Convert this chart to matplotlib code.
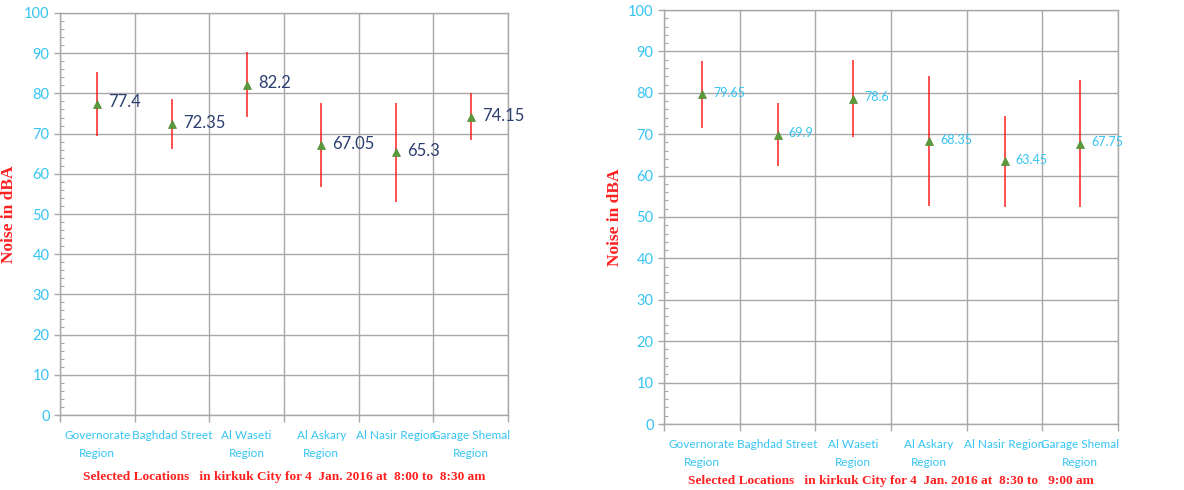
import matplotlib
matplotlib.use("Agg")
import matplotlib.pyplot as plt
import numpy as np

categories = ["Governorate\nRegion", "Baghdad Street", "Al Waseti\nRegion",
              "Al Askary\nRegion", "Al Nasir Region", "Garage Shemal\nRegion"]

mean_1 = [77.4, 72.35, 82.2, 67.05, 65.3, 74.15]
low_1 = [69.5, 66.2, 74.1, 56.6, 53.1, 68.3]
high_1 = [85.3, 78.5, 90.3, 77.5, 77.5, 80.0]

mean_2 = [79.65, 69.9, 78.6, 68.35, 63.45, 67.75]
low_2 = [71.6, 62.3, 69.4, 52.6, 52.5, 52.3]
high_2 = [87.7, 77.5, 87.9, 84.1, 74.4, 83.2]

label_1 = [str(v) for v in mean_1]
label_2 = [str(v) for v in mean_2]

title_1 = "Selected Locations   in kirkuk City for 4  Jan. 2016 at  8:00 to  8:30 am"
title_2 = "Selected Locations   in kirkuk City for 4  Jan. 2016 at  8:30 to   9:00 am"

TICK_C = "#35C4F2"
GRID_C = "#A8A8A8"
RED = "#FF2020"
GREEN = "#5A9A3A"
SANS = ["Lato", "DejaVu Sans"]
SERIF = ["Liberation Serif", "DejaVu Serif"]

fig = plt.figure(figsize=(11.84, 4.9), dpi=100)
ax1 = fig.add_axes([60/1184, 75/490, 448/1184, 402/490])
ax2 = fig.add_axes([664/1184, 66/490, 454/1184, 414/490])


def draw(ax, mean, low, high, labels, lab_color, lab_size, xtitle, title_y, ylab_x):
    x = np.arange(len(categories))
    m = np.array(mean)
    yerr = np.vstack([m - np.array(low), np.array(high) - m])
    ax.errorbar(x, m, yerr=yerr, fmt="none", ecolor=RED, elinewidth=1.1,
                capsize=0, zorder=3)
    ax.plot(x, m, linestyle="none", marker="^", markersize=6,
            color=GREEN, markeredgecolor="#4E8A33", markeredgewidth=0.5, zorder=4)
    for xi, yi, t in zip(x, m, labels):
        ax.annotate(t, (xi, yi), xytext=(8, 1), textcoords="offset points",
                    ha="left", va="center", color=lab_color,
                    fontsize=lab_size, family=SANS, zorder=5)
    ax.set_xlim(-0.5, len(categories) - 0.5)
    ax.set_ylim(0, 100)
    ax.set_yticks(np.arange(0, 101, 10))
    ax.set_yticks(np.arange(0, 101, 2), minor=True)
    ax.set_xticks(np.arange(-0.5, len(categories), 1.0))
    ax.set_xticklabels([])
    ax.set_xticks(x, minor=True)
    ax.set_xticklabels(categories, minor=True, fontsize=8.5, color=TICK_C,
                       family=SANS, linespacing=1.8)
    ax.tick_params(axis="x", which="minor", length=0, pad=11)
    ax.tick_params(axis="x", which="major", length=5, color=GRID_C, width=1)
    ax.tick_params(axis="y", which="major", length=4, color=GRID_C, width=1,
                   labelcolor=TICK_C, labelsize=10.5)
    ax.tick_params(axis="y", which="minor", direction="in", length=3,
                   color=GRID_C, width=0.8)
    for lbl in ax.get_yticklabels():
        lbl.set_family(SANS)
    ax.grid(True, which="major", color=GRID_C, linewidth=1.0, zorder=0)
    ax.set_axisbelow(True)
    for s in ax.spines.values():
        s.set_color(GRID_C)
        s.set_linewidth(1.0)
    ax.set_ylabel("Noise in dBA", color=RED, fontsize=12.5, fontweight="bold",
                  family=SERIF)
    ax.yaxis.set_label_coords(ylab_x, 0.5)
    ax.text(0.5, title_y, xtitle, transform=ax.transAxes, ha="center",
            va="center", color=RED, fontsize=9.6, fontweight="bold",
            family=SERIF)


draw(ax1, mean_1, low_1, high_1, label_1, "#2C3F70", 12, title_1, -0.155, -0.096)
draw(ax2, mean_2, low_2, high_2, label_2, "#35C4F2", 9, title_2, -0.137, -0.09)

fig.savefig("out.png", dpi=100)
